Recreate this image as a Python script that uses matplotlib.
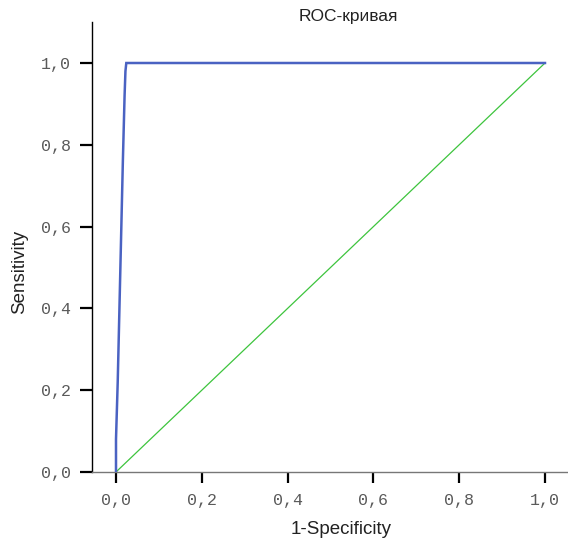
import matplotlib.pyplot as plt

# --- data ---
fpr = [0.0, 0.0, 0.004, 0.008, 0.012, 0.016, 0.020, 0.022, 0.024, 1.0]
tpr = [0.0, 0.08, 0.22, 0.40, 0.58, 0.76, 0.92, 0.98, 1.0, 1.0]
ref_x = [0.0, 1.0]
ref_y = [0.0, 1.0]
ticks = [0.0, 0.2, 0.4, 0.6, 0.8, 1.0]
tick_labels = ["0,0", "0,2", "0,4", "0,6", "0,8", "1,0"]

# --- figure ---
fig = plt.figure(figsize=(5.68, 5.39), dpi=100)
ax = fig.add_axes([92 / 568, 67 / 539, 476 / 568, 450 / 539])

ax.plot(ref_x, ref_y, color="#3dc43d", lw=0.9, zorder=2)
ax.plot(fpr, tpr, color="#4a62c2", lw=1.8, zorder=3, solid_joinstyle="miter")

ax.set_xlim(-24 / 429, 452 / 429)
ax.set_ylim(0, 450 / 409)

for s in ("top", "right"):
    ax.spines[s].set_visible(False)
ax.spines["left"].set_color("black")
ax.spines["left"].set_linewidth(1.0)
ax.spines["bottom"].set_color("#777777")
ax.spines["bottom"].set_linewidth(1.0)

mono = "Liberation Mono"
ax.set_xticks(ticks)
ax.set_xticklabels(tick_labels, family=mono, fontsize=12, color="#5a5a5a")
ax.set_yticks(ticks)
ax.set_yticklabels(tick_labels, family=mono, fontsize=12, color="#5a5a5a")
ax.tick_params(axis="x", direction="out", length=8, width=1.6, color="black", pad=7)
ax.tick_params(axis="y", direction="out", length=9, width=1.6, color="black", pad=6)

sans = "Liberation Sans"
fig.text(348 / 568, 1 - 17 / 539, "ROC-кривая", family=sans, fontsize=12.5,
         color="#222222", ha="center", va="center")
fig.text(341 / 568, 1 - 530 / 539, "1-Specificity", family=sans, fontsize=13.5,
         color="#222222", ha="center", va="center")
fig.text(20 / 568, 1 - 272 / 539, "Sensitivity", family=sans, fontsize=13.5,
         color="#222222", ha="center", va="center", rotation=90)

fig.savefig("out.png", dpi=100)
